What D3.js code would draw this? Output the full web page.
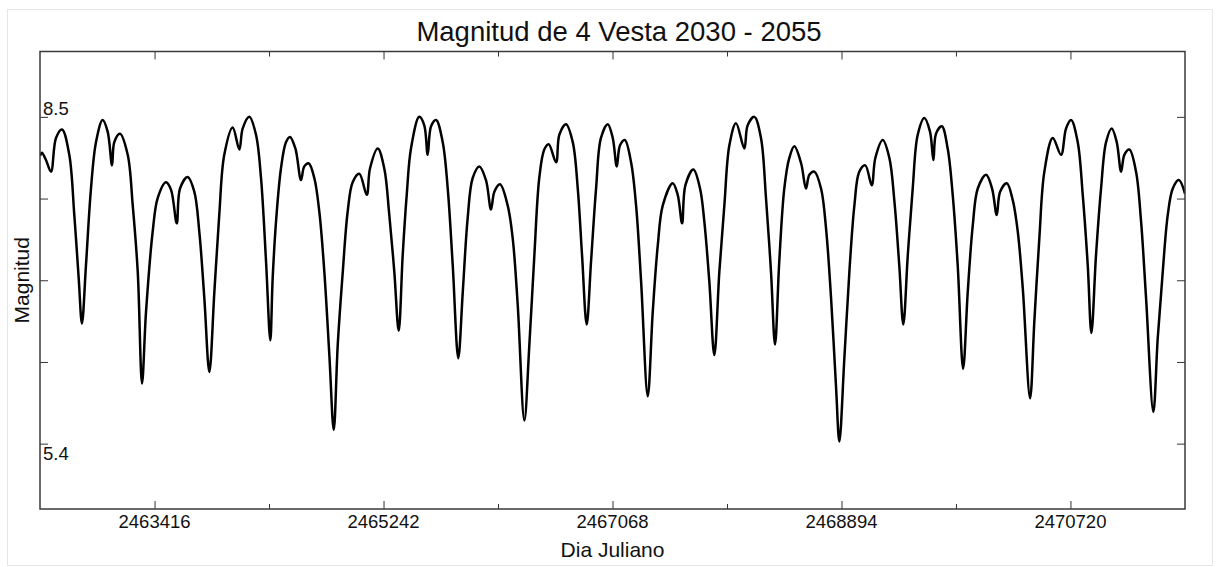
<!DOCTYPE html>
<html>
<head>
<meta charset="utf-8">
<script src="https://cdn.jsdelivr.net/npm/d3@7/dist/d3.min.js"></script>
<style>
  body { margin: 0; background: #fff; }
  svg { display: block; }
  text { font-family: "Liberation Sans", Arial, sans-serif; fill: #111; }
</style>
</head>
<body>
<div id="chart"></div>
<script>
// Vesta magnitude (Julian day, magnitude)
var jd = [2462503, 2462518, 2462550, 2462590, 2462630, 2462678, 2462736, 2462776, 2462811, 2462837,
  2462869, 2462909, 2462949, 2463002, 2463042, 2463077, 2463095, 2463140, 2463202, 2463242,
  2463282, 2463316, 2463348, 2463401, 2463441, 2463507, 2463547, 2463593, 2463619, 2463680,
  2463733, 2463773, 2463813, 2463853, 2463893, 2463932, 2463972, 2464039, 2464092, 2464119,
  2464172, 2464225, 2464265, 2464305, 2464339, 2464358, 2464385, 2464424, 2464464, 2464496,
  2464539, 2464584, 2464610, 2464645, 2464690, 2464730, 2464770, 2464810, 2464845, 2464877,
  2464917, 2464956, 2464996, 2465049, 2465108, 2465134, 2465196, 2465248, 2465288, 2465328,
  2465363, 2465395, 2465427, 2465461, 2465527, 2465567, 2465594, 2465621, 2465661, 2465714,
  2465754, 2465794, 2465838, 2465874, 2465913, 2465953, 2466006, 2466059, 2466099, 2466126,
  2466171, 2466232, 2466272, 2466312, 2466365, 2466405, 2466445, 2466484, 2466524, 2466559,
  2466618, 2466644, 2466697, 2466751, 2466791, 2466825, 2466862, 2466897, 2466937, 2466976,
  2467030, 2467070, 2467102, 2467128, 2467166, 2467216, 2467256, 2467296, 2467349, 2467389,
  2467429, 2467469, 2467548, 2467588, 2467623, 2467649, 2467713, 2467766, 2467800, 2467840,
  2467880, 2467920, 2467960, 2468000, 2468053, 2468119, 2468146, 2468199, 2468252, 2468292,
  2468332, 2468364, 2468398, 2468438, 2468478, 2468518, 2468572, 2468611, 2468638, 2468678,
  2468731, 2468771, 2468811, 2468851, 2468877, 2468917, 2468957, 2468997, 2469036, 2469084,
  2469135, 2469164, 2469223, 2469276, 2469316, 2469355, 2469387, 2469423, 2469462, 2469502,
  2469555, 2469600, 2469627, 2469648, 2469694, 2469741, 2469781, 2469821, 2469864, 2469901,
  2469941, 2469981, 2470047, 2470095, 2470132, 2470159, 2470212, 2470260, 2470300, 2470340,
  2470398, 2470432, 2470472, 2470512, 2470579, 2470645, 2470685, 2470725, 2470778, 2470818,
  2470858, 2470887, 2470924, 2470964, 2471004, 2471049, 2471089, 2471124, 2471150, 2471190,
  2471243, 2471283, 2471323, 2471381, 2471416, 2471456, 2471496, 2471536, 2471584, 2471634];

var mag = [8.13, 8.16, 8.09, 7.98, 8.30, 8.38, 8.14, 7.57, 6.97, 6.54,
  7.09, 7.82, 8.26, 8.47, 8.36, 8.04, 8.26, 8.34, 8.14, 7.66,
  7.03, 5.97, 6.65, 7.41, 7.73, 7.88, 7.81, 7.49, 7.82, 7.93,
  7.79, 7.41, 6.78, 6.08, 6.84, 7.57, 8.14, 8.40, 8.19, 8.39,
  8.50, 8.33, 7.92, 7.13, 6.38, 6.97, 7.51, 8.01, 8.26, 8.31,
  8.20, 7.90, 8.03, 8.06, 7.92, 7.60, 7.03, 6.24, 5.53, 6.34,
  7.03, 7.60, 7.88, 7.96, 7.76, 8.01, 8.20, 8.01, 7.57, 7.03,
  6.47, 7.19, 7.76, 8.20, 8.50, 8.42, 8.14, 8.41, 8.47, 8.26,
  7.82, 7.09, 6.21, 6.84, 7.54, 7.92, 8.03, 7.90, 7.62, 7.79,
  7.86, 7.66, 7.35, 6.72, 5.62, 6.34, 7.19, 7.92, 8.19, 8.24,
  8.07, 8.33, 8.43, 8.26, 7.82, 7.19, 6.53, 7.13, 7.82, 8.30,
  8.43, 8.30, 8.03, 8.23, 8.28, 8.07, 7.66, 6.94, 5.85, 6.65,
  7.28, 7.66, 7.87, 7.76, 7.49, 7.85, 8.00, 7.82, 7.51, 6.94,
  6.24, 7.03, 7.66, 8.23, 8.44, 8.20, 8.42, 8.50, 8.30, 7.73,
  7.03, 6.34, 7.13, 7.82, 8.11, 8.22, 8.06, 7.82, 7.95, 7.98,
  7.82, 7.44, 6.78, 5.93, 5.42, 6.21, 7.03, 7.66, 7.98, 8.04,
  7.85, 8.11, 8.28, 8.11, 7.70, 7.09, 6.53, 7.19, 7.82, 8.33,
  8.49, 8.36, 8.09, 8.34, 8.41, 8.20, 7.76, 7.09, 6.11, 6.84,
  7.47, 7.82, 7.95, 7.82, 7.57, 7.79, 7.87, 7.71, 7.41, 6.87,
  5.83, 6.56, 7.35, 7.98, 8.30, 8.14, 8.39, 8.47, 8.26, 7.76,
  7.09, 6.45, 7.19, 7.82, 8.26, 8.39, 8.26, 7.98, 8.14, 8.19,
  7.98, 7.51, 6.78, 5.70, 6.40, 7.03, 7.57, 7.82, 7.90, 7.77];

var xDomain = [2462502.5, 2471633.5];
var yDomain = [4.78, 9.12];
var xMajorTicks = [2463416, 2465242, 2467068, 2468894, 2470720];
var xMinorTicks = [2464329, 2466155, 2467981, 2469807];
var yTicks = [8.5, 7.725, 6.95, 6.175, 5.4];
var yLabelled = [8.5, 5.4];

var titleText = "Magnitud de 4 Vesta 2030 - 2055";
var xTitle = "Dia Juliano";
var yTitle = "Magnitud";

var data = jd.map(function (d, i) { return {jd: d, mag: mag[i]}; });

var width = 1220, height = 567;
var margin = {left: 40, top: 51.5, right: 35, bottom: 58};
var innerWidth = width - margin.left - margin.right;
var innerHeight = height - margin.top - margin.bottom;

var svg = d3.select("#chart").append("svg")
  .attr("width", width)
  .attr("height", height);

// faint outer frame
svg.append("rect")
  .attr("x", 7.5).attr("y", 9.5)
  .attr("width", 1205).attr("height", 556)
  .attr("fill", "none").attr("stroke", "#e6e6e6");

var x = d3.scaleLinear().domain(xDomain).range([0, innerWidth]);
var y = d3.scaleLinear().domain(yDomain).range([innerHeight, 0]);

var g = svg.append("g")
  .attr("transform", "translate(" + margin.left + "," + margin.top + ")");

g.append("clipPath").attr("id", "clip")
  .append("rect").attr("width", innerWidth).attr("height", innerHeight);

var line = d3.line()
  .x(function (d) { return x(d.jd); })
  .y(function (d) { return y(d.mag); })
  .curve(d3.curveCatmullRom.alpha(0.5));

g.append("path")
  .datum(data)
  .attr("clip-path", "url(#clip)")
  .attr("d", line)
  .attr("fill", "none")
  .attr("stroke", "#000")
  .attr("stroke-width", 2.5)
  .attr("stroke-linejoin", "round");

// tick marks only (inward); the labels are drawn separately below
function ticksOnly(sel) {
  sel.select(".domain").remove();
  sel.selectAll(".tick text").remove();
  sel.selectAll(".tick line").attr("stroke", "#333").attr("stroke-width", 1);
}

g.append("g")
  .attr("transform", "translate(0," + innerHeight + ")")
  .call(d3.axisBottom(x).tickValues(xMajorTicks).tickSize(-8))
  .call(ticksOnly);
g.append("g")
  .attr("transform", "translate(0," + innerHeight + ")")
  .call(d3.axisBottom(x).tickValues(xMinorTicks).tickSize(-5))
  .call(ticksOnly);
g.append("g")
  .call(d3.axisTop(x).tickValues(xMajorTicks).tickSize(-8))
  .call(ticksOnly);
g.append("g")
  .call(d3.axisTop(x).tickValues(xMinorTicks).tickSize(-5))
  .call(ticksOnly);
g.append("g")
  .call(d3.axisRight(y).tickValues(yTicks).tickSize(8))
  .call(ticksOnly);
g.append("g")
  .attr("transform", "translate(" + innerWidth + ",0)")
  .call(d3.axisLeft(y).tickValues(yTicks).tickSize(8))
  .call(ticksOnly);

// plot frame
g.append("rect")
  .attr("width", innerWidth).attr("height", innerHeight)
  .attr("fill", "none").attr("stroke", "#3a3a3a").attr("stroke-width", 1.5);

// x tick labels
svg.append("g").selectAll("text")
  .data(xMajorTicks)
  .enter().append("text")
  .attr("x", function (d) { return margin.left + x(d); })
  .attr("y", 528)
  .attr("text-anchor", "middle")
  .style("font-size", "18.5px")
  .attr("fill", "#222")
  .text(d3.format("d"));

// y labels, inside the frame: 8.5 above its tick, 5.4 below
svg.append("g").selectAll("text")
  .data(yLabelled)
  .enter().append("text")
  .attr("x", margin.left + 3)
  .attr("y", function (d) { return margin.top + y(d) + (d === yLabelled[0] ? -2 : 16.5); })
  .style("font-size", "18.5px")
  .attr("fill", "#222")
  .text(d3.format(".1f"));

// titles
svg.append("text")
  .attr("x", 619).attr("y", 41)
  .attr("text-anchor", "middle")
  .style("font-size", "27.5px")
  .text(titleText);

svg.append("text")
  .attr("x", margin.left + innerWidth / 2).attr("y", 557)
  .attr("text-anchor", "middle")
  .style("font-size", "21px")
  .attr("fill", "#222")
  .text(xTitle);

svg.append("text")
  .attr("transform", "translate(29," + (margin.top + innerHeight / 2) + ") rotate(-90)")
  .attr("text-anchor", "middle")
  .style("font-size", "21px")
  .attr("fill", "#222")
  .text(yTitle);
</script>
</body>
</html>
